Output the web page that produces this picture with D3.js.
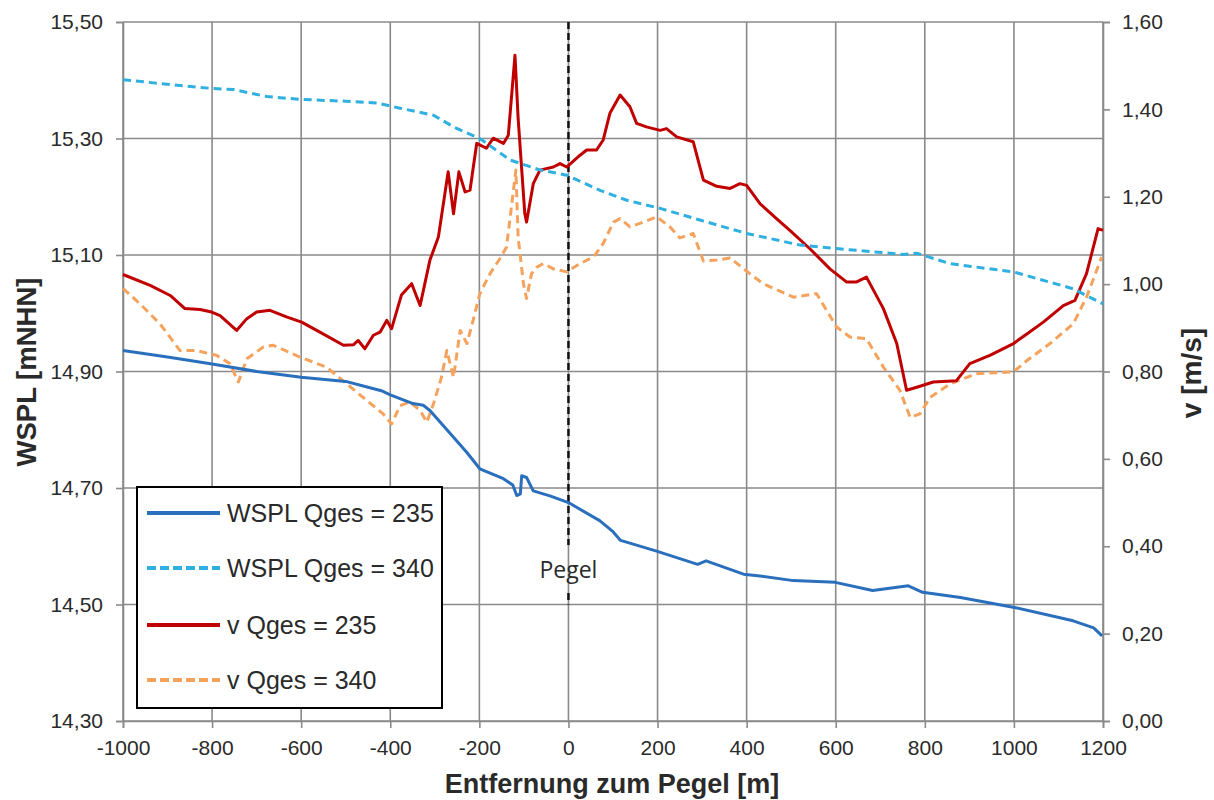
<!DOCTYPE html>
<html><head><meta charset="utf-8">
<script src="https://cdn.jsdelivr.net/npm/d3@7"></script>
<style>body{margin:0;background:#fff}svg{display:block}</style>
</head><body>
<svg id="chart" width="1214" height="800"></svg>
<script>
// ---- data ----
const xTicks = [-1000,-800,-600,-400,-200,0,200,400,600,800,1000,1200];
const leftTicks = [14.3,14.5,14.7,14.9,15.1,15.3,15.5];
const rightTicks = [0,0.2,0.4,0.6,0.8,1.0,1.2,1.4,1.6];
const seriesNames = ["WSPL Qges = 235","WSPL Qges = 340","v Qges = 235","v Qges = 340"];

const wspl235X = [-1000,-900,-800,-700,-600,-500,-450,-420,-400,-349,-326,-311,-258,-228,-199,-146,-125,-116,-108,-105,-94,-79,-40,0,70,100,117,196,290,309,393,430,505,599,683,763,795,880,1001,1133,1179,1198];
const wspl235Y = [14.936,14.925,14.913,14.900,14.890,14.883,14.873,14.867,14.860,14.845,14.842,14.833,14.787,14.761,14.733,14.716,14.705,14.687,14.690,14.721,14.718,14.695,14.686,14.675,14.644,14.625,14.610,14.592,14.569,14.575,14.552,14.549,14.541,14.538,14.524,14.532,14.521,14.512,14.495,14.472,14.460,14.446];

const wspl340X = [-1000,-900,-801,-752,-677,-599,-500,-430,-378,-303,-258,-199,-131,-64,-4,71,131,206,295,400,520,602,752,782,857,999,1133,1200];
const wspl340Y = [15.401,15.393,15.386,15.384,15.372,15.367,15.364,15.361,15.352,15.340,15.320,15.300,15.263,15.246,15.237,15.211,15.194,15.180,15.160,15.137,15.117,15.111,15.101,15.103,15.085,15.071,15.042,15.016];

const v235X = [-1000,-939,-894,-861,-827,-801,-782,-745,-722,-700,-670,-633,-599,-558,-505,-483,-472,-457,-438,-423,-408,-397,-375,-352,-333,-311,-292,-270,-258,-246,-232,-221,-206,-184,-169,-146,-135,-120,-113,-98,-94,-79,-64,-34,-19,-4,26,41,63,78,93,116,138,153,175,206,220,243,280,303,333,363,385,400,430,467,497,542,587,624,647,669,707,737,759,782,819,871,901,946,999,1029,1066,1111,1137,1163,1189,1200];
const v235Y = [1.022,0.997,0.974,0.944,0.942,0.936,0.928,0.894,0.921,0.936,0.940,0.925,0.913,0.890,0.860,0.861,0.871,0.852,0.883,0.890,0.917,0.898,0.975,1.001,0.951,1.055,1.108,1.257,1.161,1.257,1.211,1.215,1.322,1.311,1.334,1.322,1.341,1.524,1.380,1.162,1.142,1.230,1.261,1.268,1.276,1.268,1.295,1.307,1.307,1.330,1.391,1.433,1.406,1.368,1.360,1.352,1.356,1.337,1.326,1.238,1.224,1.219,1.230,1.226,1.184,1.150,1.123,1.081,1.035,1.005,1.005,1.016,0.944,0.864,0.757,0.764,0.776,0.779,0.818,0.837,0.864,0.886,0.913,0.951,0.963,1.024,1.127,1.123];

const v340X = [-1000,-962,-917,-872,-835,-790,-760,-741,-722,-685,-663,-603,-543,-498,-453,-416,-397,-378,-356,-333,-318,-303,-285,-273,-258,-243,-228,-214,-199,-176,-154,-139,-128,-118,-113,-101,-94,-83,-71,-56,-34,-4,26,56,78,101,116,138,168,198,228,250,280,303,333,363,407,437,505,557,602,632,669,707,744,767,789,812,857,916,999,1029,1081,1133,1163,1197];
const v340Y = [0.990,0.955,0.909,0.848,0.848,0.837,0.818,0.776,0.829,0.856,0.860,0.833,0.810,0.772,0.734,0.703,0.680,0.722,0.730,0.711,0.684,0.726,0.787,0.848,0.787,0.894,0.864,0.917,0.978,1.024,1.058,1.085,1.177,1.261,1.108,1.001,0.967,1.024,1.039,1.047,1.035,1.028,1.047,1.062,1.093,1.142,1.150,1.131,1.142,1.154,1.131,1.106,1.116,1.053,1.055,1.060,1.024,1.001,0.970,0.978,0.902,0.879,0.875,0.810,0.757,0.695,0.703,0.741,0.772,0.795,0.799,0.825,0.864,0.909,0.970,1.062];

// ---- layout ----
const svg = d3.select("#chart");
const L = 123, R = 1103, T = 22, B = 721;
const x = d3.scaleLinear().domain([-1000,1200]).range([L,R]);
const yL = d3.scaleLinear().domain([14.3,15.5]).range([B,T]);
const yR = d3.scaleLinear().domain([0,1.6]).range([B,T]);
const fmt = d3.format(".2f");
const comma = v => fmt(v).replace(".", ",");
const FONT = "'Liberation Sans', Arial, sans-serif";
const gridColor = "#8a8a8a";

// gridlines
svg.append("g").selectAll("line").data(xTicks).join("line")
  .attr("x1", d => x(d)).attr("x2", d => x(d)).attr("y1", T).attr("y2", B)
  .attr("stroke", gridColor).attr("stroke-width", 1.6);
svg.append("g").selectAll("line").data(leftTicks).join("line")
  .attr("x1", L).attr("x2", R).attr("y1", d => yL(d)).attr("y2", d => yL(d))
  .attr("stroke", gridColor).attr("stroke-width", 1.6);

// axes
const ax = svg.append("g").attr("transform", `translate(0,${B})`)
  .call(d3.axisBottom(x).tickValues(xTicks).tickSize(7).tickPadding(12).tickFormat(d => String(d)));
const ayl = svg.append("g").attr("transform", `translate(${L},0)`)
  .call(d3.axisLeft(yL).tickValues(leftTicks).tickSize(7).tickPadding(13).tickFormat(comma));
const ayr = svg.append("g").attr("transform", `translate(${R},0)`)
  .call(d3.axisRight(yR).tickValues(rightTicks).tickSize(7).tickPadding(12).tickFormat(comma));
[ax, ayl, ayr].forEach(g => {
  g.select(".domain").attr("stroke", gridColor).attr("stroke-width", 1.6);
  g.selectAll(".tick line").attr("stroke", gridColor).attr("stroke-width", 1.6);
  g.selectAll(".tick text").attr("font-family", FONT).attr("font-size", 21).attr("fill", "#2a2a2a");
});

// Pegel marker
svg.append("line").attr("x1", x(0)).attr("x2", x(0)).attr("y1", T).attr("y2", 545)
  .attr("stroke", "#111").attr("stroke-width", 2.5).attr("stroke-dasharray", "7,4");
svg.append("line").attr("x1", x(0)).attr("x2", x(0)).attr("y1", 593).attr("y2", yL(14.5))
  .attr("stroke", "#111").attr("stroke-width", 2.5).attr("stroke-dasharray", "7,4");
svg.append("text").attr("x", x(0)).attr("y", 578).attr("text-anchor", "middle")
  .attr("font-family", "'Open Sans', 'Noto Sans', sans-serif").attr("font-size", 23).attr("fill", "#2a2a2a")
  .text("Pegel");

// series
const lineL = d3.line().x(d => x(d[0])).y(d => yL(d[1]));
const lineR = d3.line().x(d => x(d[0])).y(d => yR(d[1]));
const zip = (a, b) => a.map((v, i) => [v, b[i]]);
const styles = [
  {color:"#2a6fbd", dash:null, w:3},
  {color:"#2fb0e0", dash:"8,5", w:3},
  {color:"#c00000", dash:null, w:3},
  {color:"#f5a25c", dash:"8,5", w:3}
];
const data = [
  {pts: zip(v340X, v340Y), gen: lineR, s: styles[3]},
  {pts: zip(v235X, v235Y), gen: lineR, s: styles[2]},
  {pts: zip(wspl340X, wspl340Y), gen: lineL, s: styles[1]},
  {pts: zip(wspl235X, wspl235Y), gen: lineL, s: styles[0]}
];
data.forEach(d => {
  svg.append("path").attr("d", d.gen(d.pts)).attr("fill", "none")
    .attr("stroke", d.s.color).attr("stroke-width", d.s.w)
    .attr("stroke-linejoin", "round")
    .attr("stroke-dasharray", d.s.dash);
});

// axis titles
svg.append("text").attr("x", 612).attr("y", 793).attr("text-anchor", "middle")
  .attr("font-family", FONT).attr("font-size", 27).attr("font-weight", "bold").attr("fill", "#2a2a2a")
  .text("Entfernung zum Pegel [m]");
svg.append("text").attr("transform", "translate(36,372) rotate(-90)").attr("text-anchor", "middle")
  .attr("font-family", FONT).attr("font-size", 27.5).attr("font-weight", "bold").attr("fill", "#2a2a2a")
  .text("WSPL [mNHN]");
svg.append("text").attr("transform", "translate(1201,373) rotate(-90)").attr("text-anchor", "middle")
  .attr("font-family", FONT).attr("font-size", 28).attr("font-weight", "bold").attr("fill", "#2a2a2a")
  .text("v [m/s]");

// legend
const lg = svg.append("g");
lg.append("rect").attr("x", 137).attr("y", 487).attr("width", 305).attr("height", 221)
  .attr("fill", "#fff").attr("stroke", "#000").attr("stroke-width", 2);
const legY = [513, 568, 625, 680];
seriesNames.forEach((name, i) => {
  lg.append("line").attr("x1", 147).attr("x2", 220).attr("y1", legY[i]).attr("y2", legY[i])
    .attr("stroke", styles[i].color).attr("stroke-width", 4)
    .attr("stroke-dasharray", styles[i].dash ? "9,4" : null);
  lg.append("text").attr("x", 227).attr("y", legY[i]).attr("dy", "0.36em")
    .attr("font-family", FONT).attr("font-size", 25).attr("fill", "#2a2a2a").text(name);
});
</script>
</body></html>
